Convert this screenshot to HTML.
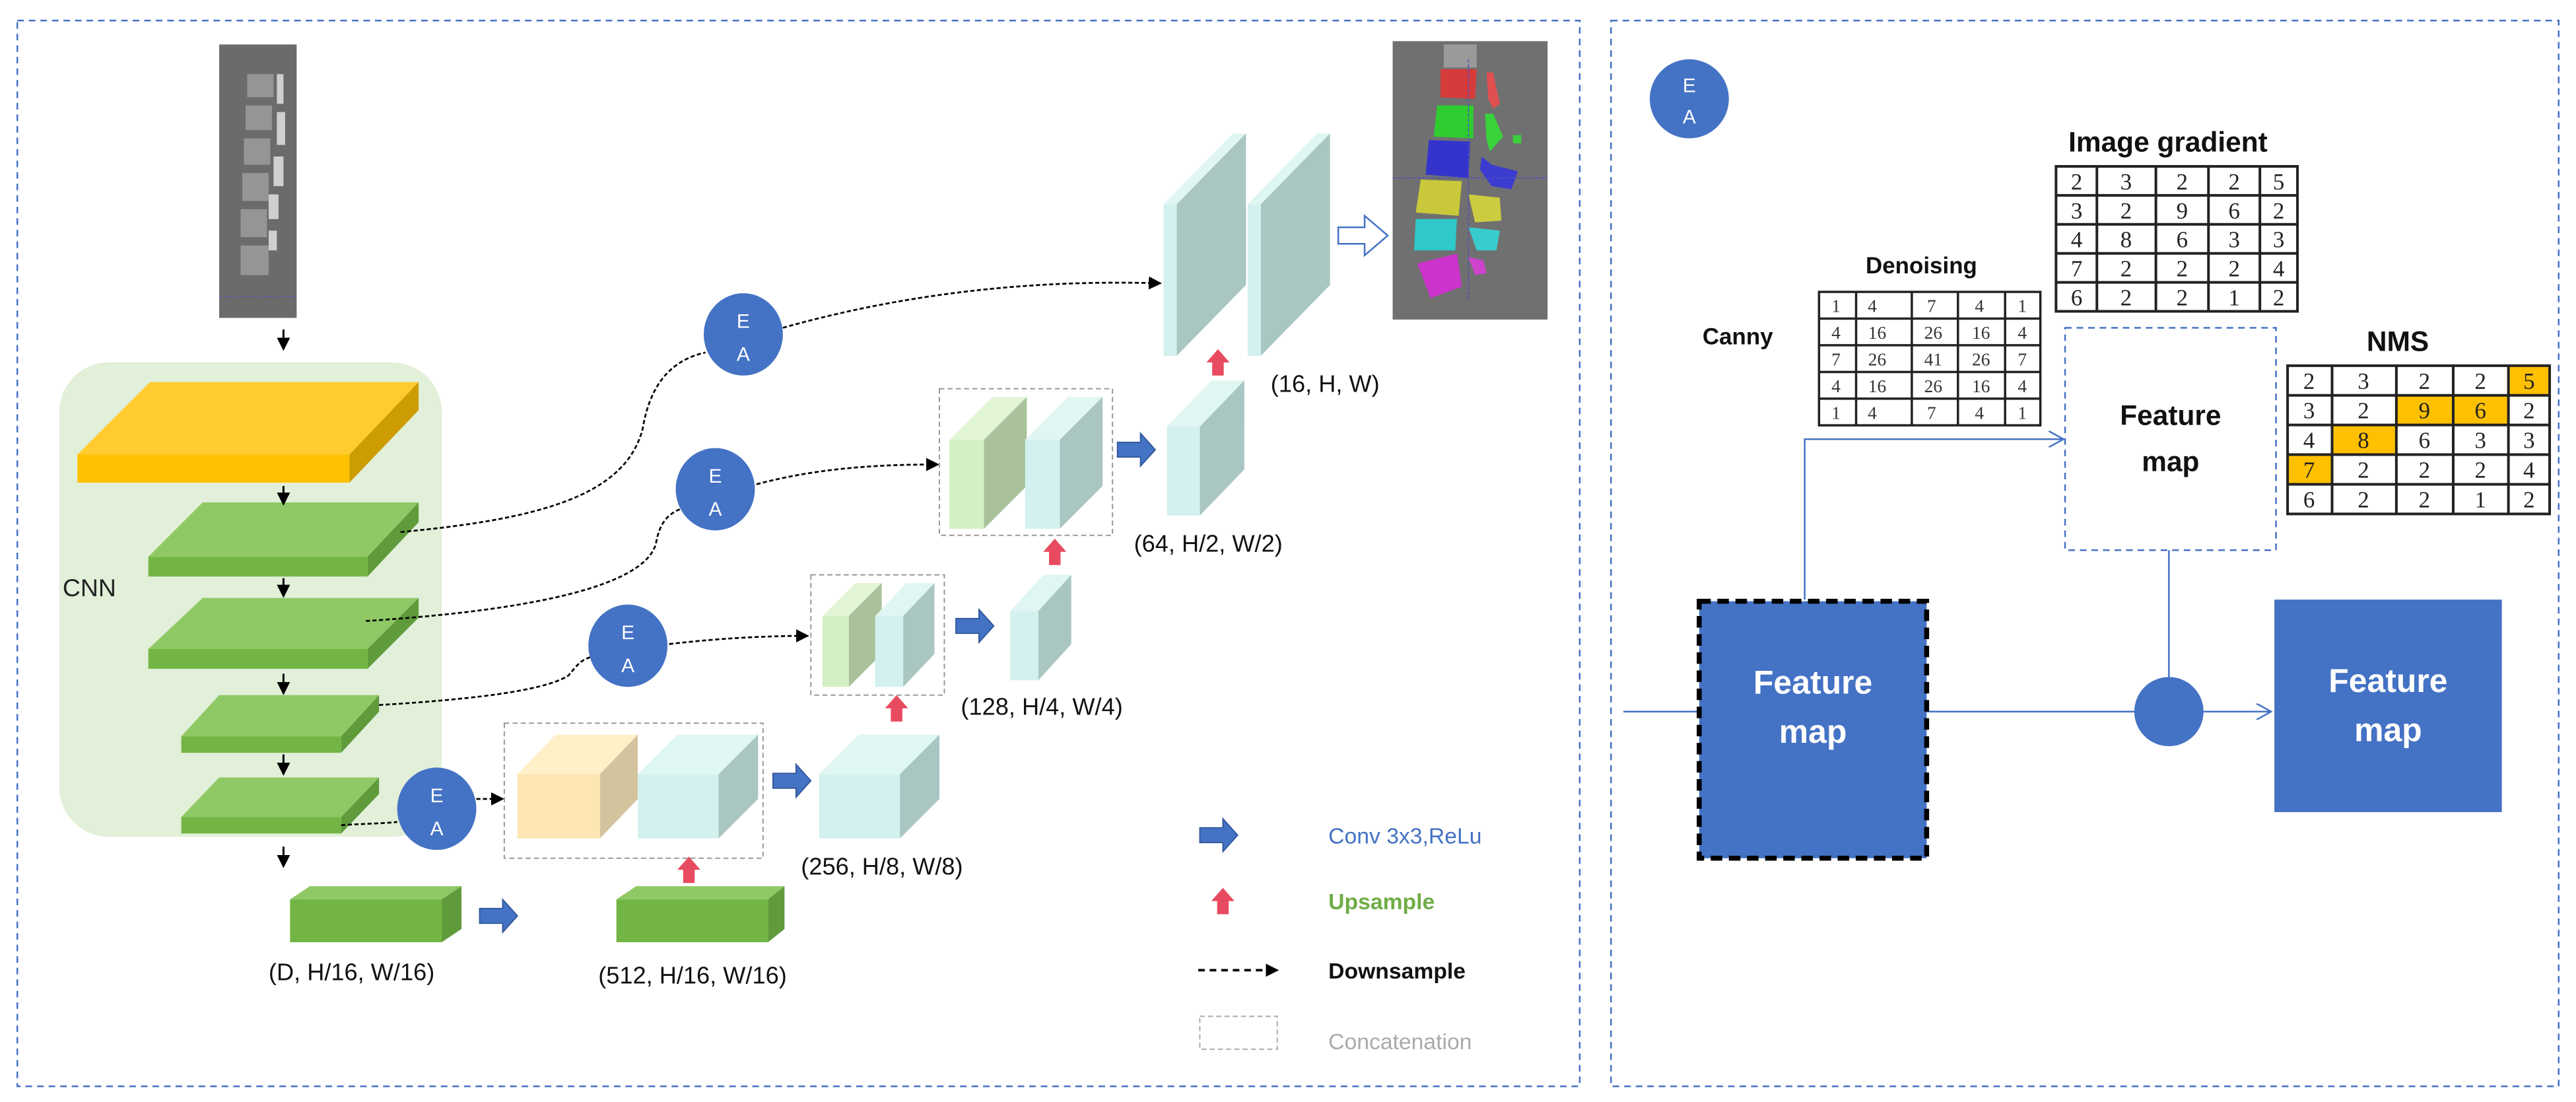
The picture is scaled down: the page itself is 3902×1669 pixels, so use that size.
<!DOCTYPE html>
<html><head><meta charset="utf-8"><style>
html,body{margin:0;padding:0;background:#fff;}
svg{display:block;}
text{font-family:"Liberation Sans",sans-serif;}
text.sf{font-family:"Liberation Serif",serif;}
</style></head><body>
<svg width="3902" height="1669" viewBox="0 0 1563 669" preserveAspectRatio="none" xmlns="http://www.w3.org/2000/svg">
<defs>
<marker id="ah" markerWidth="8" markerHeight="8" refX="7" refY="4" orient="auto" markerUnits="userSpaceOnUse"><path d="M0,0 L8,4 L0,8 z" fill="#000"/></marker>
<marker id="bh" markerWidth="10" markerHeight="10" refX="9" refY="5" orient="auto" markerUnits="userSpaceOnUse"><path d="M0,0 L9,5 L0,10" fill="none" stroke="#4472c4" stroke-width="1"/></marker>
<g id="rup"><polygon points="0,0 7,8 3.5,8 3.5,16 -3.5,16 -3.5,8 -7,8" fill="#e84a5f"/></g>
<g id="brt"><polygon points="0,-4.5 14,-4.5 14,-10 23,0 14,10 14,4.5 0,4.5" fill="#4472c4" stroke="#2f5597" stroke-width="0.7"/></g>
</defs>

<rect x="10.5" y="12.5" width="948" height="647" fill="none" stroke="#4472c4" stroke-dasharray="4,3" stroke-width="1"/>
<rect x="977.5" y="12.5" width="575" height="647" fill="none" stroke="#4472c4" stroke-dasharray="4,3" stroke-width="1"/>

<!-- CT image -->
<rect x="133" y="27" width="47" height="166" fill="#6b6b6b"/>
<g fill="#9a9a9a" opacity="0.9">
<rect x="150" y="45" width="16" height="14"/><rect x="149" y="64" width="16" height="15"/><rect x="148" y="84" width="16" height="16"/>
<rect x="147" y="105" width="16" height="17"/><rect x="146" y="127" width="16" height="17"/><rect x="146" y="149" width="17" height="18"/>
</g>
<g fill="#cfcfcf"><rect x="168" y="45" width="4" height="18"/><rect x="168" y="68" width="5" height="20"/><rect x="166" y="95" width="6" height="18"/><rect x="163" y="118" width="6" height="15"/><rect x="163" y="140" width="5" height="12"/></g>
<line x1="133" y1="180" x2="180" y2="180" stroke="#5b5bb0" stroke-width="0.6" stroke-dasharray="2,1"/>

<!-- segmentation image -->
<rect x="845" y="25" width="94" height="169" fill="#707070"/>
<rect x="876" y="27" width="20" height="14" fill="#9a9a9a"/>
<polygon points="874,42 896,42 895,60 874,59" fill="#d63b3b"/>
<polygon points="902,44 906,44 910,63 906,66 903,60" fill="#e05050"/>
<polygon points="872,64 894,64 894,84 870,83" fill="#2ecc2e"/>
<polygon points="901,69 906,69 912,83 904,92 902,85" fill="#3ad23a"/>
<rect x="918" y="82" width="5" height="5" fill="#3ad23a"/>
<polygon points="867,85 892,86 891,108 865,106" fill="#3434cc"/>
<polygon points="899,95 905,100 921,104 917,115 905,113 898,103" fill="#3c3cd0"/>
<polygon points="862,109 887,110 885,131 859,129" fill="#c8c83a"/>
<polygon points="891,118 910,120 911,134 895,135" fill="#cccc40"/>
<polygon points="859,133 884,133 883,152 858,152" fill="#2fc9c9"/>
<polygon points="891,138 910,140 908,152 896,152" fill="#38cccc"/>
<polygon points="860,160 884,154 887,174 868,181" fill="#cc33cc"/>
<polygon points="891,156 900,158 902,166 895,167" fill="#cc44cc"/>
<line x1="891" y1="36" x2="891" y2="183" stroke="#5050c0" stroke-width="0.6" stroke-dasharray="2,1"/>
<line x1="845" y1="108" x2="939" y2="108" stroke="#5050c0" stroke-width="0.6" stroke-dasharray="2,1"/>

<rect x="36" y="220" width="232" height="288" rx="30" fill="#e2efd9"/>
<text x="38" y="362" font-size="15" fill="#222">CNN</text>

<polygon points="47,276 91,232 254,232 212,276" fill="#ffcb2e"/>
<polygon points="212,276 254,232 254,249 212,293" fill="#cc9c00"/>
<rect x="47" y="276" width="165" height="17" fill="#ffc000"/>

<g>
<polygon points="90,338 123,305 254,305 223,338" fill="#8fc965"/><polygon points="223,338 254,305 254,317 223,350" fill="#5f9b3b"/><rect x="90" y="338" width="133" height="12" fill="#72b544"/>
<polygon points="90,394 123,363 254,363 223,394" fill="#8fc965"/><polygon points="223,394 254,363 254,375 223,406" fill="#5f9b3b"/><rect x="90" y="394" width="133" height="12" fill="#72b544"/>
<polygon points="110,447 133,422 230,422 207,447" fill="#8fc965"/><polygon points="207,447 230,422 230,432 207,457" fill="#5f9b3b"/><rect x="110" y="447" width="97" height="10" fill="#72b544"/>
<polygon points="110,496 133,472 230,472 207,496" fill="#8fc965"/><polygon points="207,496 230,472 230,482 207,506" fill="#5f9b3b"/><rect x="110" y="496" width="97" height="10" fill="#72b544"/>
<polygon points="176,546 188,538 280,538 268,546" fill="#8fc965"/><polygon points="268,546 280,538 280,564 268,572" fill="#5f9b3b"/><rect x="176" y="546" width="92" height="26" fill="#72b544"/>
<polygon points="374,546 386,538 476,538 466,546" fill="#8fc965"/><polygon points="466,546 476,538 476,564 466,572" fill="#5f9b3b"/><rect x="374" y="546" width="92" height="26" fill="#72b544"/>
</g>

<g stroke="#000" stroke-width="1.2" marker-end="url(#ah)">
<line x1="172" y1="200" x2="172" y2="212"/><line x1="172" y1="295" x2="172" y2="306"/><line x1="172" y1="351" x2="172" y2="362"/>
<line x1="172" y1="409" x2="172" y2="421"/><line x1="172" y1="458" x2="172" y2="470"/><line x1="172" y1="514" x2="172" y2="526"/>
</g>

<g fill="none" stroke="#000" stroke-width="1.1" stroke-dasharray="2.5,1.5">
<path d="M243,323 C330,315 380,300 390,260 C395,230 410,218 428,214"/>
<path d="M475,199 C560,175 640,170 704,172" marker-end="url(#ah)"/>
<path d="M222,377 C300,372 390,360 398,330 C400,318 405,312 413,309"/>
<path d="M459,294 C500,283 540,282 569,282" marker-end="url(#ah)"/>
<path d="M230,428 C280,425 330,420 345,410 C350,404 352,401 358,399"/>
<path d="M406,391 C440,387 470,386 490,386" marker-end="url(#ah)"/>
<path d="M207,501 C220,500 232,500 241,499"/>
<path d="M289,485 L305,485" marker-end="url(#ah)"/>
</g>

<g fill="#4472c4">
<ellipse cx="451" cy="203" rx="24" ry="25"/><ellipse cx="434" cy="297" rx="24" ry="25"/>
<ellipse cx="381" cy="392" rx="24" ry="25"/><ellipse cx="265" cy="491" rx="24" ry="25"/>
<ellipse cx="1025" cy="60" rx="24" ry="24"/>
</g>
<g fill="#fff" font-size="12" text-anchor="middle">
<text x="451" y="199">E</text><text x="451" y="219">A</text>
<text x="434" y="293">E</text><text x="434" y="313">A</text>
<text x="381" y="388">E</text><text x="381" y="408">A</text>
<text x="265" y="487">E</text><text x="265" y="507">A</text>
<text x="1025" y="56">E</text><text x="1025" y="75">A</text>
</g>

<g fill="none" stroke="#999" stroke-width="0.8" stroke-dasharray="3,2">
<rect x="306" y="439" width="157" height="82"/>
<rect x="492" y="349" width="81" height="73"/>
<rect x="570" y="236" width="105" height="89"/>
</g>

<polygon points="314,470 337,446 387,446 364,470" fill="#fff0c8"/><polygon points="364,470 387,446 387,485 364,509" fill="#d4c49e"/><rect x="314" y="470" width="50" height="39" fill="#fde6b3"/>
<polygon points="387,470 411,446 460,446 436,470" fill="#e0f6f3"/><polygon points="436,470 460,446 460,485 436,509" fill="#a9c6c2"/><rect x="387" y="470" width="49" height="39" fill="#d3f1ee"/>
<polygon points="497,470 521,446 570,446 546,470" fill="#e0f6f3"/><polygon points="546,470 570,446 570,485 546,509" fill="#a9c6c2"/><rect x="497" y="470" width="49" height="39" fill="#d3f1ee"/>
<polygon points="499,374 519,354 535,354 515,374" fill="#e2f5d6"/><polygon points="515,374 535,354 535,397 515,417" fill="#a9c29b"/><rect x="499" y="374" width="16" height="43" fill="#d5efc5"/>
<polygon points="531,374 550,354 567,354 548,374" fill="#e0f6f3"/><polygon points="548,374 567,354 567,397 548,417" fill="#a9c6c2"/><rect x="531" y="374" width="17" height="43" fill="#d3f1ee"/>
<polygon points="613,371 633,349 650,349 630,371" fill="#e0f6f3"/><polygon points="630,371 650,349 650,391 630,413" fill="#a9c6c2"/><rect x="613" y="371" width="17" height="42" fill="#d3f1ee"/>
<polygon points="576,267 602,241 623,241 597,267" fill="#e2f5d6"/><polygon points="597,267 623,241 623,295 597,321" fill="#a9c29b"/><rect x="576" y="267" width="21" height="54" fill="#d5efc5"/>
<polygon points="622,267 648,241 669,241 643,267" fill="#e0f6f3"/><polygon points="643,267 669,241 669,295 643,321" fill="#a9c6c2"/><rect x="622" y="267" width="21" height="54" fill="#d3f1ee"/>
<polygon points="708,259 735,231 755,231 728,259" fill="#e0f6f3"/><polygon points="728,259 755,231 755,285 728,313" fill="#a9c6c2"/><rect x="708" y="259" width="20" height="54" fill="#d3f1ee"/>
<polygon points="706,124 748,81 756,81 714,124" fill="#e0f6f3"/><polygon points="714,124 756,81 756,173 714,216" fill="#a9c6c2"/><rect x="706" y="124" width="8" height="92" fill="#d3f1ee"/>
<polygon points="757,124 799,81 807,81 765,124" fill="#e0f6f3"/><polygon points="765,124 807,81 807,173 765,216" fill="#a9c6c2"/><rect x="757" y="124" width="8" height="92" fill="#d3f1ee"/>

<polygon points="812,138 828,138 828,131 842,143 828,155 828,148 812,148" fill="#fff" stroke="#4472c4" stroke-width="1"/>

<use href="#brt" x="469" y="474"/><use href="#brt" x="580" y="380"/><use href="#brt" x="678" y="273"/>
<use href="#brt" x="291" y="556"/><use href="#brt" x="728" y="507"/>
<use href="#rup" x="418" y="520"/><use href="#rup" x="544" y="422"/><use href="#rup" x="640" y="327"/><use href="#rup" x="739" y="212"/><use href="#rup" x="742" y="539"/>

<g font-size="14.5" fill="#111">
<text x="771" y="238">(16, H, W)</text>
<text x="688" y="335">(64, H/2, W/2)</text>
<text x="583" y="434">(128, H/4, W/4)</text>
<text x="486" y="531">(256, H/8, W/8)</text>
<text x="163" y="595">(D, H/16, W/16)</text>
<text x="363" y="597">(512, H/16, W/16)</text>
</g>

<text x="806" y="512" font-size="13.5" fill="#4472c4">Conv 3x3,ReLu</text>
<text x="806" y="552" font-size="13.5" fill="#70ad47" font-weight="bold">Upsample</text>
<line x1="727" y1="589" x2="775" y2="589" stroke="#000" stroke-width="1.5" stroke-dasharray="4,3" marker-end="url(#ah)"/>
<text x="806" y="594" font-size="13.5" fill="#111" font-weight="bold">Downsample</text>
<rect x="728" y="617" width="47" height="20" fill="none" stroke="#aaa" stroke-width="0.8" stroke-dasharray="3,2"/>
<text x="806" y="637" font-size="13.5" fill="#aaa">Concatenation</text>

<!-- RIGHT PANEL -->
<text x="1255" y="92" font-size="17" font-weight="bold" fill="#111">Image gradient</text>
<text x="1132" y="166" font-size="14" font-weight="bold" fill="#111">Denoising</text>
<text x="1033" y="209" font-size="14" font-weight="bold" fill="#111">Canny</text>
<text x="1436" y="213" font-size="17" font-weight="bold" fill="#111">NMS</text>

<g font-size="14" fill="#222" text-anchor="middle">
<g stroke="#222" stroke-width="1.6" fill="none">
<rect x="1247.5" y="101" width="146.5" height="88"/>
<line x1="1272.3" y1="101" x2="1272.3" y2="189"/><line x1="1308.1" y1="101" x2="1308.1" y2="189"/><line x1="1340" y1="101" x2="1340" y2="189"/><line x1="1371.2" y1="101" x2="1371.2" y2="189"/>
<line x1="1247.5" y1="118.6" x2="1394" y2="118.6"/><line x1="1247.5" y1="136.2" x2="1394" y2="136.2"/><line x1="1247.5" y1="153.8" x2="1394" y2="153.8"/><line x1="1247.5" y1="171.4" x2="1394" y2="171.4"/>
</g>
<text class="sf" x="1260" y="115">2</text><text class="sf" x="1290" y="115">3</text><text class="sf" x="1324" y="115">2</text><text class="sf" x="1355.6" y="115">2</text><text class="sf" x="1382.6" y="115">5</text>
<text class="sf" x="1260" y="132.6">3</text><text class="sf" x="1290" y="132.6">2</text><text class="sf" x="1324" y="132.6">9</text><text class="sf" x="1355.6" y="132.6">6</text><text class="sf" x="1382.6" y="132.6">2</text>
<text class="sf" x="1260" y="150.2">4</text><text class="sf" x="1290" y="150.2">8</text><text class="sf" x="1324" y="150.2">6</text><text class="sf" x="1355.6" y="150.2">3</text><text class="sf" x="1382.6" y="150.2">3</text>
<text class="sf" x="1260" y="167.8">7</text><text class="sf" x="1290" y="167.8">2</text><text class="sf" x="1324" y="167.8">2</text><text class="sf" x="1355.6" y="167.8">2</text><text class="sf" x="1382.6" y="167.8">4</text>
<text class="sf" x="1260" y="185.4">6</text><text class="sf" x="1290" y="185.4">2</text><text class="sf" x="1324" y="185.4">2</text><text class="sf" x="1355.6" y="185.4">1</text><text class="sf" x="1382.6" y="185.4">2</text>
</g>

<g font-size="11" fill="#333" text-anchor="middle">
<g stroke="#222" stroke-width="1.4" fill="none">
<rect x="1103.7" y="177.2" width="134.3" height="81"/>
<line x1="1126.2" y1="177.2" x2="1126.2" y2="258.2"/><line x1="1160" y1="177.2" x2="1160" y2="258.2"/><line x1="1188" y1="177.2" x2="1188" y2="258.2"/><line x1="1216.6" y1="177.2" x2="1216.6" y2="258.2"/>
<line x1="1103.7" y1="193.4" x2="1238" y2="193.4"/><line x1="1103.7" y1="209.6" x2="1238" y2="209.6"/><line x1="1103.7" y1="225.8" x2="1238" y2="225.8"/><line x1="1103.7" y1="242" x2="1238" y2="242"/>
</g>
<text class="sf" x="1114" y="189.5">1</text><text class="sf" x="1136" y="189.5">4</text><text class="sf" x="1172" y="189.5">7</text><text class="sf" x="1201" y="189.5">4</text><text class="sf" x="1227" y="189.5">1</text>
<text class="sf" x="1114" y="205.7">4</text><text class="sf" x="1139" y="205.7">16</text><text class="sf" x="1173" y="205.7">26</text><text class="sf" x="1202" y="205.7">16</text><text class="sf" x="1227" y="205.7">4</text>
<text class="sf" x="1114" y="221.9">7</text><text class="sf" x="1139" y="221.9">26</text><text class="sf" x="1173" y="221.9">41</text><text class="sf" x="1202" y="221.9">26</text><text class="sf" x="1227" y="221.9">7</text>
<text class="sf" x="1114" y="238.1">4</text><text class="sf" x="1139" y="238.1">16</text><text class="sf" x="1173" y="238.1">26</text><text class="sf" x="1202" y="238.1">16</text><text class="sf" x="1227" y="238.1">4</text>
<text class="sf" x="1114" y="254.3">1</text><text class="sf" x="1136" y="254.3">4</text><text class="sf" x="1172" y="254.3">7</text><text class="sf" x="1201" y="254.3">4</text><text class="sf" x="1227" y="254.3">1</text>
</g>

<g font-size="14" fill="#222" text-anchor="middle">
<rect x="1522" y="222" width="25" height="18" fill="#ffc000"/>
<rect x="1454" y="240" width="34.5" height="18" fill="#ffc000"/>
<rect x="1488.5" y="240" width="33.5" height="18" fill="#ffc000"/>
<rect x="1415" y="258" width="39" height="18" fill="#ffc000"/>
<rect x="1388" y="276" width="27" height="18" fill="#ffc000"/>
<g stroke="#222" stroke-width="1.6" fill="none">
<rect x="1388" y="222" width="159" height="90"/>
<line x1="1415" y1="222" x2="1415" y2="312"/><line x1="1454" y1="222" x2="1454" y2="312"/><line x1="1488.5" y1="222" x2="1488.5" y2="312"/><line x1="1522" y1="222" x2="1522" y2="312"/>
<line x1="1388" y1="240" x2="1547" y2="240"/><line x1="1388" y1="258" x2="1547" y2="258"/><line x1="1388" y1="276" x2="1547" y2="276"/><line x1="1388" y1="294" x2="1547" y2="294"/>
</g>
<text class="sf" x="1401" y="236">2</text><text class="sf" x="1434" y="236">3</text><text class="sf" x="1471" y="236">2</text><text class="sf" x="1505" y="236">2</text><text class="sf" x="1534.5" y="236">5</text>
<text class="sf" x="1401" y="254">3</text><text class="sf" x="1434" y="254">2</text><text class="sf" x="1471" y="254">9</text><text class="sf" x="1505" y="254">6</text><text class="sf" x="1534.5" y="254">2</text>
<text class="sf" x="1401" y="272">4</text><text class="sf" x="1434" y="272">8</text><text class="sf" x="1471" y="272">6</text><text class="sf" x="1505" y="272">3</text><text class="sf" x="1534.5" y="272">3</text>
<text class="sf" x="1401" y="290">7</text><text class="sf" x="1434" y="290">2</text><text class="sf" x="1471" y="290">2</text><text class="sf" x="1505" y="290">2</text><text class="sf" x="1534.5" y="290">4</text>
<text class="sf" x="1401" y="308">6</text><text class="sf" x="1434" y="308">2</text><text class="sf" x="1471" y="308">2</text><text class="sf" x="1505" y="308">1</text><text class="sf" x="1534.5" y="308">2</text>
</g>

<rect x="1253" y="199" width="128" height="135" fill="#fff" stroke="#4472c4" stroke-width="1" stroke-dasharray="4,3"/>
<text x="1317" y="258" font-size="17" font-weight="bold" text-anchor="middle" fill="#111">Feature</text>
<text x="1317" y="286" font-size="17" font-weight="bold" text-anchor="middle" fill="#111">map</text>

<g stroke="#4472c4" stroke-width="1" fill="none">
<polyline points="1095,364 1095,266.6 1252,266.6" marker-end="url(#bh)"/>
<line x1="1316" y1="334" x2="1316" y2="412"/>
<line x1="985" y1="432" x2="1378" y2="432" marker-end="url(#bh)"/>
</g>

<rect x="1031" y="365" width="138" height="156" fill="#4472c4" stroke="#000" stroke-width="3" stroke-dasharray="7,4"/>
<text x="1100" y="421" font-size="20" font-weight="bold" text-anchor="middle" fill="#fff">Feature</text>
<text x="1100" y="451" font-size="20" font-weight="bold" text-anchor="middle" fill="#fff">map</text>
<circle cx="1316" cy="432" r="21" fill="#4472c4"/>
<rect x="1380" y="364" width="138" height="129" fill="#4472c4"/>
<text x="1449" y="420" font-size="20" font-weight="bold" text-anchor="middle" fill="#fff">Feature</text>
<text x="1449" y="450" font-size="20" font-weight="bold" text-anchor="middle" fill="#fff">map</text>
</svg>
</body></html>
